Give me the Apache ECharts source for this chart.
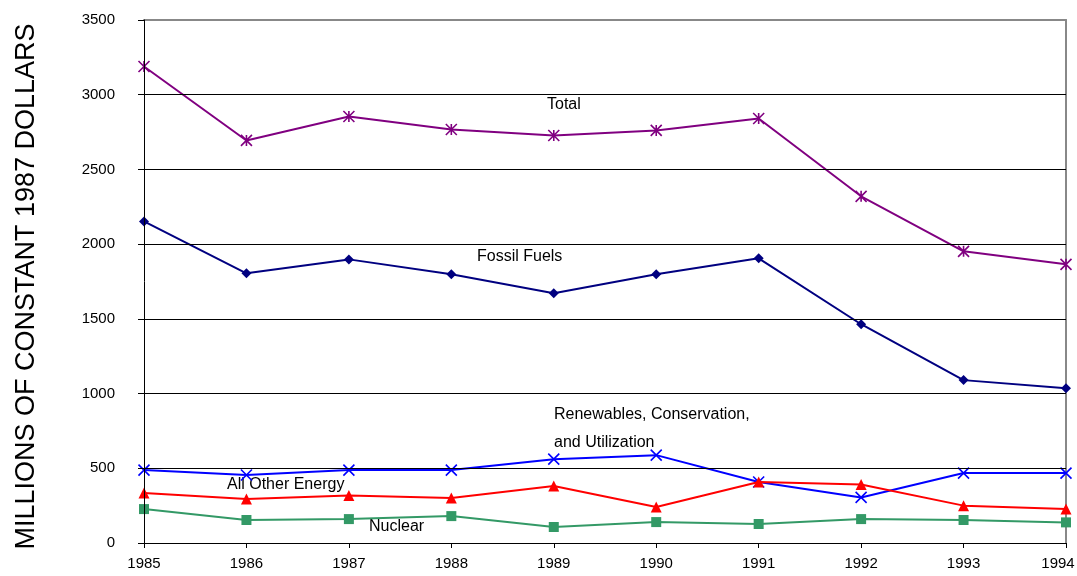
<!DOCTYPE html>
<html><head><meta charset="utf-8">
<script src="https://cdn.jsdelivr.net/npm/echarts@6/dist/echarts.min.js"></script>
<style>html,body{margin:0;padding:0;background:#fff}#c{width:1077px;height:576px}</style>
</head><body><div id="c"></div>
<script>
const years = ['1985','1986','1987','1988','1989','1990','1991','1992','1993','1994'];
const total = [3189, 2694, 2854, 2767, 2727, 2761, 2841, 2320, 1952, 1865];
const fossil = [2152, 1805, 1898, 1798, 1671, 1798, 1905, 1464, 1090, 1036];
const renewables = [488, 455, 488, 488, 561, 588, 408, 305, 468, 468];
const allOther = [334, 294, 318, 301, 381, 241, 408, 391, 250, 227];
const nuclear = [227, 154, 160, 180, 107, 140, 127, 160, 154, 138];
const yTicks = [0, 500, 1000, 1500, 2000, 2500, 3000, 3500];

const font = '"Liberation Sans", Arial, sans-serif';
const chart = echarts.init(document.getElementById('c'));
function mk(name, data, color, symbol, size, extra) {
  return Object.assign({
    name, type: 'line', data, symbol, symbolSize: size,
    lineStyle: { color, width: 2 },
    itemStyle: { color, borderColor: color, borderWidth: 0 },
    z: 3, animation: false
  }, extra || {});
}
chart.setOption({
  animation: false,
  grid: { left: 144, right: 11, top: 20, bottom: 33, outerBoundsMode: 'none', containLabel: false },
  xAxis: [{
    type: 'category', data: years, boundaryGap: false,
    axisLine: { lineStyle: { color: '#000', width: 1 } },
    axisTick: { show: true, length: 5, lineStyle: { color: '#000' } },
    axisLabel: { color: '#000', fontFamily: font, fontSize: 15, margin: 13,
      formatter: (v, i) => i === years.length - 1 ? '{r|' + v + '}' : v,
      rich: { r: { color: '#000', fontFamily: font, fontSize: 15, padding: [0, 16, 0, 0] } } },
    splitLine: { show: false }, z: 5
  }, {
    type: 'category', data: years, boundaryGap: false, position: 'top',
    axisLine: { show: true, onZero: false, lineStyle: { color: '#888', width: 2 } },
    axisTick: { show: false }, axisLabel: { show: false }, splitLine: { show: false }
  }],
  yAxis: [{
    type: 'value', min: 0, max: 3500, interval: 500,
    name: 'MILLIONS OF CONSTANT 1987 DOLLARS', nameLocation: 'middle', nameGap: 104,
    nameTextStyle: { color: '#000', fontFamily: font, fontSize: 27, padding: [0, 10, 0, 0] },
    axisLine: { show: true, lineStyle: { color: '#000', width: 1 } },
    axisTick: { show: true, length: 6, lineStyle: { color: '#000' } },
    axisLabel: { color: '#000', fontFamily: font, fontSize: 15, margin: 29,
      formatter: v => yTicks.includes(v) ? String(v) : '' },
    splitLine: { show: true, lineStyle: { color: ['#000','#000','#000','#000','#000','#000','#000','transparent'], width: 1 } },
    z: 5
  }, {
    type: 'value', min: 0, max: 3500, interval: 500, position: 'right',
    axisLine: { show: true, onZero: false, lineStyle: { color: '#888', width: 2 } },
    axisTick: { show: false }, axisLabel: { show: false }, splitLine: { show: false }
  }],
  series: [
    mk('Total', total, '#800080', 'path://M0,0L10,10M10,0L0,10M5,0L5,10', 11, { itemStyle: { color: 'transparent', borderColor: '#800080', borderWidth: 1.6 } }),
    mk('Fossil Fuels', fossil, '#000080', 'diamond', 10),
    mk('Renewables, Conservation, and Utilization', renewables, '#0000ff', 'path://M0,0L10,10M10,0L0,10', 11, { itemStyle: { color: 'transparent', borderColor: '#0000ff', borderWidth: 1.6 } }),
    mk('All Other Energy', allOther, '#ff0000', 'triangle', 11),
    mk('Nuclear', nuclear, '#339966', 'rect', 10)
  ],
  graphic: [
    { type: 'text', left: 547, top: 97, style: { text: 'Total', fill: '#000', font: '16px ' + font } },
    { type: 'text', left: 477, top: 249, style: { text: 'Fossil Fuels', fill: '#000', font: '16px ' + font } },
    { type: 'text', left: 554, top: 407, style: { text: 'Renewables, Conservation,', fill: '#000', font: '16px ' + font } },
    { type: 'text', left: 554, top: 435, style: { text: 'and Utilization', fill: '#000', font: '16px ' + font } },
    { type: 'text', left: 227, top: 477, style: { text: 'All Other Energy', fill: '#000', font: '16px ' + font } },
    { type: 'text', left: 369, top: 519, style: { text: 'Nuclear', fill: '#000', font: '16px ' + font } }
  ]
});
</script></body></html>
